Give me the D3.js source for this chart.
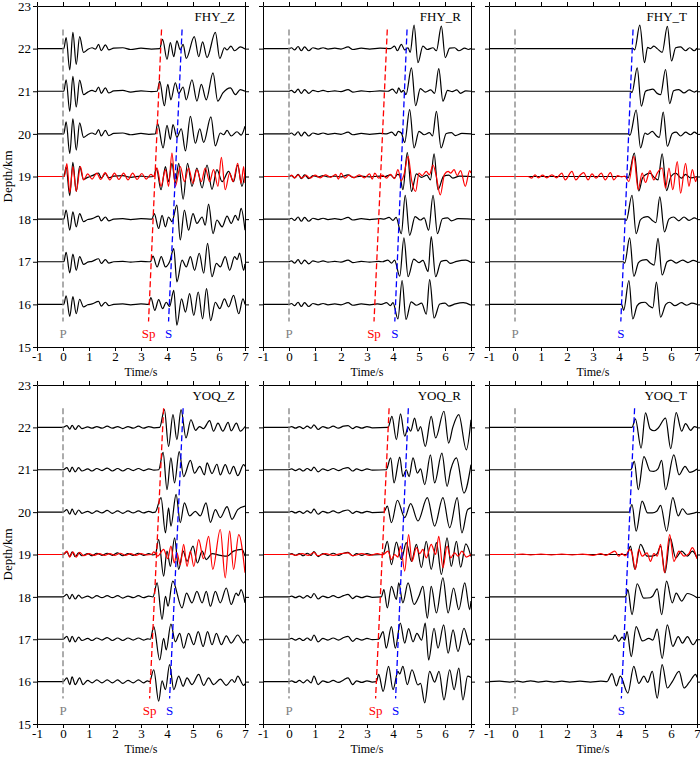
<!DOCTYPE html>
<html>
<head>
<meta charset="utf-8">
<script src="https://cdn.jsdelivr.net/npm/d3@7"></script>
<style>
  body { margin: 0; background: #fff; }
  svg text { font-family: "Liberation Serif", "Times New Roman", serif; }
</style>
</head>
<body>
<div id="root"></div>
<script>
// ---- data ----
const panelNames = ['FHY_Z', 'FHY_R', 'FHY_T', 'YOQ_Z', 'YOQ_R', 'YOQ_T'];
const depths = [22, 21, 20, 19, 18, 17, 16];
const redDepth = 19;
const timeTicks = [-1, 0, 1, 2, 3, 4, 5, 6, 7];
const depthTicks = [15, 16, 17, 18, 19, 20, 21, 22, 23];
const pickDepths = [22.45, 15.6];          // top / bottom of the pick lines
const pPicks = [[0, 0], [0, 0], [0, 0], [0, 0], [0, 0], [0, 0]];
const spPicks = [[3.79, 3.29], [3.78, 3.27], null, [3.87, 3.33], [3.85, 3.33], null];
const sPicks = [[4.58, 4.06], [4.54, 4.07], [4.54, 4.07], [4.62, 4.1], [4.59, 4.1], [4.6, 4.09]];

// traces: flat [time(s), amplitude(0.01 km)] pairs, one per depth 22..16
const fhyZ = [
  [-1,0, .03,0, .12,26, .26,-50, .38,38, .51,-37, .64,28, .79,-9, .95,-2, 1.12,2, 1.25,-1, 1.37,10, 1.47,-5, 1.63,9, 1.76,-3, 1.95,1, 2.3,2, 2.6,-2, 3.0,1, 3.4,-1, 3.72,0, 3.83,22, 4.0,-25, 4.13,14, 4.26,-19, 4.38,18, 4.51,-3, 4.62,10, 4.74,-23, 5.05,28, 5.22,-19, 5.37,16, 5.54,-21, 5.86,38, 6.03,-23, 6.21,2, 6.31,-3, 6.46,6, 6.6,-5, 6.82,4, 7,-1],
  [-1,0, .03,0, .12,27, .26,-47, .38,35, .51,-37, .64,26, .79,-8, .95,-2, 1.12,2, 1.25,-1, 1.37,10, 1.47,-5, 1.63,8, 1.76,-4, 1.95,1, 2.3,2, 2.6,-2, 3.0,1, 3.4,-1, 3.62,0, 3.72,23, 3.9,-34, 4.03,16, 4.15,-20, 4.32,20, 4.45,-5, 4.62,10, 4.74,-20, 4.96,27, 5.15,-23, 5.32,16, 5.51,-20, 5.77,43, 5.95,-23, 6.15,-4, 6.44,8, 6.63,-8, 6.82,4, 7,0],
  [-1,0, .03,0, .12,28, .26,-46, .38,35, .51,-38, .64,26, .79,-8, .95,-2, 1.12,2, 1.25,-1, 1.37,10, 1.47,-5, 1.63,8, 1.76,-4, 1.95,1, 2.3,2, 2.6,-2, 3.0,1, 3.3,-1, 3.55,0, 3.64,24, 3.85,-33, 4.0,20, 4.13,-13, 4.23,22, 4.38,-8, 4.55,12, 4.71,-40, 4.9,41, 5.09,-22, 5.26,12, 5.41,-20, 5.69,40, 5.86,-28, 6.05,2, 6.18,-2, 6.31,8, 6.47,-5, 6.69,5, 6.85,-3, 7,18],
  [-1,0, .03,0, .12,22, .26,-45, .38,33, .51,-35, .64,24, .79,-7, .95,-2, 1.12,2, 1.37,8, 1.47,-4, 1.63,7, 1.76,-3, 1.95,1, 2.3,2, 2.6,-2, 3.0,1, 3.3,-1, 3.49,0, 3.59,20, 3.77,-31, 3.94,23, 4.06,-12, 4.19,31, 4.32,-15, 4.45,31, 4.62,-53, 4.79,31, 4.96,-23, 5.15,20, 5.35,-27, 5.54,27, 5.73,-30, 5.92,16, 6.12,-12, 6.37,12, 6.56,-12, 6.72,27, 6.88,-23, 7,8],
  [-1,0, .03,0, .12,21, .26,-26, .38,17, .51,-18, .64,13, .79,-6, .95,-1, 1.12,1, 1.37,7, 1.47,-4, 1.63,5, 1.76,-4, 1.95,0, 2.3,1, 2.6,-1, 3.0,1, 3.42,0, 3.51,13, 3.68,-22, 3.81,9, 3.94,-18, 4.06,5, 4.19,-6, 4.38,33, 4.51,-49, 4.67,21, 4.83,-26, 5.0,13, 5.15,-10, 5.35,5, 5.47,-14, 5.6,35, 5.77,-34, 5.92,-2, 6.12,-18, 6.31,7, 6.47,-10, 6.63,9, 6.74,-3, 6.85,25, 7,-26],
  [-1,0, .03,0, .12,22, .26,-26, .38,18, .51,-20, .64,12, .79,-6, .95,-1, 1.12,1, 1.37,7, 1.47,-4, 1.63,5, 1.76,-3, 1.95,0, 2.3,1, 2.6,-1, 3.0,1, 3.36,0, 3.46,13, 3.62,-12, 3.78,12, 3.94,-12, 4.1,0, 4.26,31, 4.38,-47, 4.58,4, 4.74,-12, 4.9,12, 5.06,-20, 5.24,20, 5.41,-27, 5.56,43, 5.73,-35, 5.9,-4, 6.05,-12, 6.24,12, 6.41,-20, 6.6,12, 6.7,5, 6.79,20, 6.95,-20, 7,-5],
  [-1,0, .03,0, .12,20, .26,-28, .38,18, .51,-22, .64,12, .79,-6, .95,-1, 1.12,1, 1.37,7, 1.47,-4, 1.63,5, 1.76,-3, 1.95,0, 2.3,1, 2.6,-1, 3.0,1, 3.29,0, 3.38,16, 3.53,-14, 3.68,11, 3.83,-10, 3.97,5, 4.1,-5, 4.26,33, 4.38,-49, 4.56,13, 4.71,-18, 4.87,25, 5.03,-26, 5.2,29, 5.37,-34, 5.52,37, 5.68,-38, 5.86,5, 6.03,-10, 6.21,13, 6.37,-6, 6.56,21, 6.76,-22, 6.92,13, 7,0]
];
const fhyZRed = [-1,0, .05,0, .15,30, .26,-38, .38,23, .51,-35, .67,23, .79,-8, .95,6, 1.12,-6, 1.3,8, 1.45,-7, 1.62,9, 1.8,-8, 1.98,8, 2.15,-7, 2.33,8, 2.5,-8, 2.68,8, 2.85,-7, 3.03,7, 3.2,-6, 3.38,5, 3.5,0, 3.62,20, 3.77,-23, 3.94,16, 4.06,-23, 4.19,55, 4.32,-23, 4.51,23, 4.67,-12, 4.83,20, 5.0,-16, 5.15,16, 5.32,-12, 5.47,20, 5.64,-12, 5.79,16, 5.96,-23, 6.09,45, 6.24,-31, 6.41,8, 6.54,-12, 6.72,31, 6.85,-16, 6.95,23, 7,-15];

const fhyR = [
  [-1,0, 0,0, .09,2, .22,-3, .35,5, .47,-5, .6,4, .76,-5, .92,2, 1.12,-1, 1.31,2, 1.5,-1, 1.76,1, 2.0,-1, 2.27,4, 2.45,-2, 2.78,1, 3.1,-1, 3.5,1, 3.9,0, 4.06,6, 4.17,-5, 4.32,10, 4.45,-3, 4.58,2, 4.66,-9, 4.81,55, 4.96,-33, 5.15,6, 5.32,-2, 5.54,2, 5.67,-5, 5.86,53, 6.01,-21, 6.18,1, 6.37,2, 6.53,-5, 6.76,1, 6.9,-2, 7,0],
  [-1,0, 0,0, .09,2, .22,-3, .35,5, .47,-5, .6,4, .76,-5, .92,2, 1.12,-1, 1.31,2, 1.5,-1, 1.76,1, 2.0,-1, 2.27,4, 2.45,-2, 2.78,1, 3.1,-1, 3.5,1, 3.8,0, 3.98,5, 4.14,-5, 4.22,8, 4.32,-2, 4.4,2, 4.5,-8, 4.71,55, 4.87,-34, 5.05,6, 5.25,-2, 5.45,3, 5.6,-5, 5.76,53, 5.92,-23, 6.1,2, 6.28,-1, 6.45,3, 6.6,-5, 6.8,1, 7,0],
  [-1,0, 0,0, .09,2, .22,-3, .35,5, .47,-5, .6,4, .76,-5, .92,2, 1.12,-1, 1.31,2, 1.5,-1, 1.76,1, 2.0,-1, 2.27,4, 2.45,-2, 2.78,1, 3.1,-1, 3.5,1, 3.75,0, 3.95,4, 4.1,-4, 4.2,6, 4.32,2, 4.45,-20, 4.64,57, 4.81,-33, 5.0,6, 5.2,-2, 5.4,3, 5.52,-5, 5.67,53, 5.85,-33, 6.05,1, 6.25,3, 6.4,-4, 6.65,1, 7,0],
  [-1,0, 0,0, .09,2, .22,-3, .35,5, .47,-5, .6,4, .76,-5, .92,2, 1.12,-1, 1.31,2, 1.5,-1, 1.76,1, 2.0,-1, 2.27,4, 2.45,-2, 2.78,1, 3.1,-1, 3.5,1, 3.7,0, 3.9,4, 4.05,-4, 4.17,5, 4.26,2, 4.38,-31, 4.55,56, 4.71,-35, 4.9,6, 5.1,-2, 5.3,3, 5.44,-8, 5.58,53, 5.73,-31, 5.95,1, 6.15,3, 6.3,-4, 6.55,1, 7,0],
  [-1,0, 0,0, .09,2, .22,-3, .35,5, .47,-5, .6,4, .76,-5, .92,2, 1.12,-1, 1.31,2, 1.5,-1, 1.76,1, 2.0,-1, 2.27,4, 2.45,-2, 2.78,1, 3.1,-1, 3.5,1, 3.65,0, 3.85,4, 4.0,-3, 4.12,4, 4.32,-34, 4.47,56, 4.64,-38, 4.85,6, 5.05,-2, 5.2,3, 5.37,-26, 5.54,56, 5.71,-34, 5.9,1, 6.1,3, 6.25,-4, 6.5,1, 7,0],
  [-1,0, 0,0, .09,2, .22,-3, .35,5, .47,-5, .6,4, .76,-5, .92,2, 1.12,-1, 1.31,2, 1.5,-1, 1.76,1, 2.0,-1, 2.27,4, 2.45,-2, 2.78,1, 3.1,-1, 3.45,1, 3.6,0, 3.8,4, 3.95,-3, 4.06,4, 4.26,-34, 4.42,56, 4.58,-35, 4.8,6, 5.0,-2, 5.15,3, 5.35,-23, 5.47,59, 5.64,-35, 5.85,1, 6.05,3, 6.2,-4, 6.45,1, 6.8,4, 7,-2],
  [-1,0, 0,0, .09,2, .22,-3, .35,5, .47,-5, .6,4, .76,-5, .92,2, 1.12,-1, 1.31,2, 1.5,-1, 1.76,1, 2.0,-1, 2.27,4, 2.45,-2, 2.78,1, 3.1,-1, 3.4,1, 3.55,0, 3.75,4, 3.9,-3, 4.0,4, 4.19,-34, 4.35,56, 4.5,-35, 4.7,6, 4.9,-2, 5.1,3, 5.28,-23, 5.41,58, 5.58,-32, 5.8,1, 6.0,3, 6.15,-4, 6.4,1, 6.7,4, 7,-2]
];
const fhyRRed = [-1,0, 0,0, .1,3, .22,-3, .35,4, .5,-4, .65,3, .8,-4, 1.0,3, 1.2,-3, 1.4,4, 1.6,-2, 1.8,5, 1.9,-6, 2.0,8, 2.15,-4, 2.3,3, 2.5,-3, 2.7,4, 2.9,-3, 3.1,6, 3.2,-6, 3.3,8, 3.45,-4, 3.6,3, 3.75,-4, 3.9,5, 4.06,-5, 4.19,16, 4.32,-10, 4.42,4, 4.58,47, 4.72,-10, 4.87,-35, 5.0,8, 5.12,2, 5.28,12, 5.4,4, 5.54,27, 5.65,5, 5.82,-43, 5.98,5, 6.12,12, 6.22,8, 6.35,16, 6.47,2, 6.6,14, 6.78,-23, 6.95,14, 7,8];

const fhyT = [
  [-1,0, 4.55,0, 4.6,-3, 4.8,55, 4.98,-33, 5.1,3, 5.21,0, 5.34,6, 5.47,0, 5.66,-9, 5.86,52, 6.02,-29, 6.18,2, 6.37,4, 6.56,-5, 6.72,2, 6.89,-5, 7,1],
  [-1,0, 4.45,0, 4.5,-3, 4.7,55, 4.86,-35, 5.02,0, 5.15,3, 5.3,5, 5.47,-5, 5.6,-8, 5.79,51, 5.95,-29, 6.1,1, 6.3,4, 6.5,-4, 6.7,3, 6.9,-2, 7,1],
  [-1,0, 4.36,0, 4.42,-3, 4.66,56, 4.83,-33, 5.0,2, 5.1,-1, 5.28,6, 5.45,-5, 5.55,-8, 5.7,51, 5.86,-29, 6.05,1, 6.2,4, 6.37,-5, 6.56,4, 6.75,-2, 6.9,4, 7,0],
  [-1,0, 4.29,0, 4.35,-3, 4.59,55, 4.76,-34, 4.9,-4, 5.02,4, 5.19,8, 5.35,-2, 5.5,-8, 5.66,53, 5.83,-33, 6.0,0, 6.18,8, 6.4,-4, 6.56,5, 6.75,-3, 7,0],
  [-1,0, 4.22,0, 4.28,-3, 4.5,56, 4.66,-34, 4.82,-2, 4.95,4, 5.1,6, 5.28,-3, 5.42,-8, 5.57,52, 5.75,-30, 5.92,0, 6.1,5, 6.3,-4, 6.5,5, 6.7,-3, 6.9,3, 7,0],
  [-1,0, 4.16,0, 4.22,-3, 4.41,56, 4.57,-34, 4.75,-2, 4.9,4, 5.05,5, 5.2,-3, 5.35,-8, 5.5,55, 5.66,-31, 5.85,0, 6.0,4, 6.2,-3, 6.45,4, 6.65,-2, 6.85,3, 7,0],
  [-1,0, 4.1,0, 4.18,-14, 4.38,56, 4.53,-34, 4.7,-3, 4.85,4, 5.0,5, 5.15,-3, 5.3,-8, 5.44,52, 5.6,-30, 5.8,0, 5.95,5, 6.15,-3, 6.4,4, 6.6,-2, 6.8,3, 7,0]
];
const fhyTRed = [-1,0, .5,0, .64,-4, .77,4, .9,-3, 1.06,3, 1.22,-3, 1.42,4, 1.6,-3, 1.8,8, 1.93,-8, 2.19,12, 2.34,-8, 2.5,3, 2.64,9, 2.81,-8, 2.96,6, 3.12,-4, 3.32,8, 3.47,-8, 3.67,9, 3.8,-8, 3.95,2, 4.1,-1, 4.22,1, 4.38,-12, 4.57,47, 4.74,-31, 4.89,8, 5.02,-14, 5.19,14, 5.34,-8, 5.47,8, 5.66,20, 5.79,-27, 5.92,20, 6.07,-31, 6.24,35, 6.37,-39, 6.56,31, 6.69,-23, 6.82,16, 6.95,-12, 7,0];

const yoqZ = [
  [-1,0, 0,0, .15,4, .26,-4, .35,5, .47,-5, .6,4, .73,-3, .95,1, 1.12,-2, 1.3,2, 1.5,-2, 1.7,3, 1.9,-2, 2.1,2, 2.3,-3, 2.5,2, 2.7,-2, 2.9,3, 3.1,-2, 3.3,2, 3.5,-1, 3.72,0, 3.9,42, 4.06,-45, 4.23,30, 4.38,-29, 4.54,42, 4.73,-25, 4.92,18, 5.1,-7, 5.25,2, 5.4,-3, 5.64,16, 5.79,-9, 5.96,10, 6.15,-9, 6.35,12, 6.47,-8, 6.67,10, 6.82,-9, 7,2],
  [-1,0, 0,0, .15,5, .26,-5, .35,6, .47,-5, .6,5, .73,-3, .95,2, 1.12,-3, 1.3,3, 1.5,-2, 1.7,4, 1.9,-3, 2.1,3, 2.3,-3, 2.5,3, 2.7,-2, 2.9,3, 3.1,-2, 3.3,2, 3.5,-1, 3.68,0, 3.85,41, 4.0,-47, 4.15,28, 4.29,-31, 4.47,43, 4.64,-16, 4.9,22, 5.06,-8, 5.26,8, 5.44,-12, 5.54,16, 5.73,-9, 5.92,13, 6.05,-12, 6.24,12, 6.41,-10, 6.56,8, 6.72,-14, 6.95,12, 7,8],
  [-1,0, 0,0, .15,6, .26,-5, .35,7, .47,-6, .6,5, .73,-3, .95,2, 1.12,-3, 1.3,3, 1.5,-2, 1.7,4, 1.9,-3, 2.1,3, 2.3,-3, 2.5,3, 2.7,-2, 2.9,3, 3.1,-2, 3.3,2, 3.45,-1, 3.55,0, 3.77,34, 3.94,-49, 4.06,10, 4.15,-33, 4.35,42, 4.51,-25, 4.67,22, 4.87,-9, 5.09,2, 5.28,-9, 5.5,22, 5.67,-24, 5.86,6, 6.05,-13, 6.31,13, 6.5,-17, 6.72,6, 7,14],
  [-1,0, 0,0, .15,6, .26,-5, .35,6, .47,-5, .6,4, .73,-3, .95,2, 1.12,-3, 1.3,3, 1.5,-2, 1.7,3, 1.9,-2, 2.1,4, 2.3,-3, 2.5,2, 2.7,-2, 2.9,3, 3.1,-2, 3.3,2, 3.45,-1, 3.55,0, 3.68,35, 3.87,-51, 4.0,8, 4.13,-28, 4.29,39, 4.45,-35, 4.62,8, 4.77,-16, 5.0,20, 5.17,-20, 5.35,8, 5.51,-12, 5.73,2, 6.05,-2, 6.31,-4, 6.56,8, 6.88,12, 7,-4],
  [-1,0, 0,0, .15,6, .26,-5, .35,6, .47,-5, .6,4, .73,-3, .95,2, 1.12,-3, 1.3,3, 1.5,-2, 1.7,3, 1.9,-2, 2.1,3, 2.3,-3, 2.5,2, 2.7,-2, 2.9,3, 3.1,-2, 3.3,2, 3.46,0, 3.62,33, 3.81,-53, 3.94,1, 4.04,-22, 4.22,37, 4.58,-26, 4.75,9, 4.96,-14, 5.15,13, 5.35,-14, 5.51,13, 5.67,-22, 5.86,13, 6.05,-14, 6.28,21, 6.47,-18, 6.66,9, 6.75,3, 6.85,17, 7,-14],
  [-1,0, 0,0, .15,7, .26,-6, .35,7, .47,-6, .6,5, .73,-3, .95,2, 1.12,-3, 1.3,3, 1.5,-2, 1.7,4, 1.9,-3, 2.1,3, 2.3,-3, 2.5,3, 2.7,-2, 2.9,3, 3.1,-2, 3.25,1, 3.36,0, 3.49,30, 3.72,-49, 3.87,2, 3.97,-25, 4.15,36, 4.32,-6, 4.49,14, 4.64,-21, 4.83,14, 5.03,-13, 5.2,18, 5.39,-17, 5.56,18, 5.73,-13, 5.9,14, 6.09,-13, 6.28,8, 6.47,-9, 6.72,10, 6.95,-9, 7,-5],
  [-1,0, 0,0, .15,9, .26,-7, .35,11, .47,-7, .64,9, .77,-7, .95,3, 1.12,-3, 1.3,4, 1.5,-3, 1.7,4, 1.9,-3, 2.1,4, 2.3,-4, 2.5,3, 2.7,-3, 2.9,4, 3.1,-3, 3.25,2, 3.33,0, 3.49,28, 3.68,-46, 3.81,2, 3.94,-19, 4.1,40, 4.26,-19, 4.45,13, 4.62,-11, 4.77,9, 4.96,-7, 5.22,17, 5.41,-9, 5.6,9, 5.79,-7, 6.05,6, 6.28,-9, 6.5,5, 6.6,-2, 6.72,13, 6.95,-9, 7,-5]
];
const yoqZRed = [-1,0, 0,0, .15,8, .26,-6, .38,6, .51,-6, .64,5, .8,-3, 1.0,2, 1.2,-2, 1.4,2, 1.6,-2, 1.8,2, 2.0,-2, 2.2,3, 2.4,-2, 2.6,2, 2.8,-2, 3.0,2, 3.2,-1, 3.4,0, 3.49,6, 3.64,-4, 3.87,12, 4.03,-10, 4.15,20, 4.28,-20, 4.38,4, 4.51,-24, 4.64,24, 4.77,-28, 4.9,8, 5.03,-28, 5.22,35, 5.4,-10, 5.6,43, 5.76,-35, 6.05,59, 6.24,-55, 6.41,55, 6.56,-35, 6.76,47, 7,-43];

const yoqR = [
  [-1,0, 0,0, .1,2, .25,-2, .4,2, .55,-3, .7,3, .85,-2, .96,6, 1.12,-5, 1.3,2, 1.5,-2, 1.7,3, 1.9,-2, 2.1,3, 2.27,4, 2.45,-3, 2.6,2, 2.8,-2, 3.0,2, 3.2,-1, 3.81,0, 3.96,26, 4.13,-29, 4.29,32, 4.45,-21, 4.58,0, 4.68,-9, 4.83,22, 4.96,-9, 5.06,2, 5.24,-45, 5.47,26, 5.64,-25, 5.96,38, 6.14,-37, 6.3,0, 6.53,30, 6.82,-53, 7,18],
  [-1,0, 0,0, .1,2, .25,-2, .4,2, .55,-3, .7,3, .85,-2, .96,6, 1.12,-5, 1.3,2, 1.5,-2, 1.7,3, 1.9,-2, 2.1,3, 2.27,5, 2.45,-3, 2.6,2, 2.8,-2, 3.0,2, 3.2,-1, 3.74,0, 3.91,28, 4.04,-31, 4.26,30, 4.38,-16, 4.51,0, 4.62,-16, 4.77,28, 4.94,-8, 5.06,2, 5.22,-35, 5.44,35, 5.6,-31, 5.88,39, 6.08,-39, 6.22,0, 6.44,28, 6.73,-55, 7,12],
  [-1,0, 0,0, .1,2, .25,-2, .4,2, .55,-3, .7,3, .85,-2, .96,7, 1.12,-5, 1.3,2, 1.5,-2, 1.7,3, 1.9,-2, 2.1,3, 2.27,5, 2.45,-3, 2.6,2, 2.8,-2, 3.0,2, 3.2,-1, 3.65,0, 3.78,14, 3.94,-25, 4.17,28, 4.45,-13, 4.68,20, 4.96,-21, 5.32,34, 5.6,-33, 5.92,34, 6.18,-37, 6.47,34, 6.65,-49, 6.87,6, 7,10],
  [-1,0, 0,0, .1,2, .25,-2, .4,2, .55,-3, .7,3, .85,-2, .96,7, 1.12,-5, 1.3,2, 1.5,-2, 1.7,3, 1.9,-2, 2.1,3, 2.27,5, 2.45,-3, 2.6,2, 2.8,-2, 3.0,2, 3.2,-1, 3.62,0, 3.78,31, 3.94,-24, 4.13,29, 4.32,-12, 4.51,28, 4.71,-16, 4.9,24, 5.09,-31, 5.28,31, 5.47,-35, 5.67,28, 5.86,-47, 6.08,39, 6.24,-28, 6.44,31, 6.6,-30, 6.8,25, 7,-5],
  [-1,0, 0,0, .1,2, .25,-2, .4,2, .55,-3, .7,3, .85,-2, .96,8, 1.12,-5, 1.3,2, 1.5,-2, 1.7,3, 1.9,-2, 2.1,3, 2.27,6, 2.45,-4, 2.6,2, 2.8,-2, 3.0,2, 3.2,-1, 3.55,0, 3.65,17, 3.78,-26, 3.94,25, 4.13,-6, 4.22,33, 4.38,-14, 4.58,33, 4.81,-18, 5.0,2, 5.15,25, 5.32,-50, 5.47,25, 5.67,-38, 5.92,45, 6.12,-38, 6.33,21, 6.53,-30, 6.76,33, 6.95,-30, 7,-10],
  [-1,0, 0,0, .1,2, .25,-2, .4,2, .55,-3, .7,3, .85,-3, .96,10, 1.12,-6, 1.3,2, 1.5,-2, 1.7,3, 1.9,-2, 2.1,4, 2.27,7, 2.45,-5, 2.6,2, 2.8,-2, 3.0,2, 3.2,-1, 3.45,0, 3.62,18, 3.74,-21, 3.94,30, 4.09,-21, 4.28,38, 4.45,-9, 4.6,25, 4.77,-6, 4.92,14, 5.1,-2, 5.24,38, 5.37,-49, 5.58,26, 5.73,-21, 5.95,34, 6.12,-33, 6.31,22, 6.5,-29, 6.73,26, 6.95,-13, 7,-8],
  [-1,0, 0,0, .1,2, .25,-2, .4,3, .55,-3, .7,4, .85,-3, .96,13, 1.12,-7, 1.3,2, 1.5,-2, 1.7,3, 1.9,-2, 2.1,4, 2.27,9, 2.45,-7, 2.6,2, 2.8,-2, 3.0,2, 3.2,-1, 3.36,0, 3.45,17, 3.62,-23, 3.83,36, 4.0,-19, 4.19,24, 4.26,18, 4.38,36, 4.55,-7, 4.73,28, 4.96,-8, 5.06,-4, 5.22,-50, 5.41,24, 5.6,-1, 5.77,24, 5.96,-43, 6.18,28, 6.35,-19, 6.53,32, 6.69,-43, 6.87,13, 7,10]
];
const yoqRRed = [-1,0, 0,0, .1,1, .25,-2, .5,2, .75,-2, .96,5, 1.1,-3, 1.4,2, 1.7,-2, 2.0,2, 2.27,4, 2.45,-3, 2.8,2, 3.1,-2, 3.4,2, 3.6,-1, 3.81,8, 3.94,-12, 4.06,0, 4.19,-6, 4.29,20, 4.45,-39, 4.6,47, 4.73,-16, 4.9,16, 5.03,2, 5.15,12, 5.28,-8, 5.47,24, 5.64,0, 5.76,43, 5.92,-31, 6.08,20, 6.22,-8, 6.37,4, 6.5,-4, 6.65,8, 6.82,-6, 7,0];

const yoqT = [
  [-1,0, 4.5,0, 4.63,20, 4.85,-49, 5.02,34, 5.2,-4, 5.35,-8, 5.5,-2, 5.79,22, 5.99,-50, 6.2,35, 6.41,-9, 6.56,9, 6.76,-7, 6.9,2, 7,0],
  [-1,0, 4.45,0, 4.59,20, 4.74,-47, 4.96,31, 5.2,-3, 5.34,-4, 5.5,2, 5.64,22, 5.79,-47, 6.11,35, 6.31,-12, 6.54,8, 6.72,-6, 7,2],
  [-1,0, 4.38,0, 4.5,18, 4.66,-45, 4.89,26, 5.1,-2, 5.28,-2, 5.45,2, 5.6,16, 5.83,-45, 6.07,34, 6.28,-9, 6.44,8, 6.63,-5, 7,0],
  [-1,0, 4.31,0, 4.44,20, 4.61,-35, 4.83,24, 5.08,-4, 5.28,-4, 5.47,2, 5.6,20, 5.77,-43, 5.97,39, 6.18,-8, 6.41,8, 6.63,-4, 6.82,8, 7,-8],
  [-1,0, 4.25,0, 4.34,17, 4.5,-42, 4.7,31, 4.95,-3, 5.2,-2, 5.3,2, 5.47,19, 5.64,-42, 5.83,37, 6.05,-14, 6.2,9, 6.41,-10, 6.63,8, 7,-2],
  [-1,0, 3.75,0, 3.84,10, 3.99,-5, 4.12,5, 4.22,-2, 4.31,18, 4.47,-41, 4.66,30, 4.9,-4, 5.15,2, 5.3,-2, 5.47,24, 5.66,-45, 5.86,34, 6.07,-17, 6.28,6, 6.44,-9, 6.63,6, 6.85,-13, 7,0],
  [-1,0, -.6,1, -.2,-1, .1,1, .3,-1, .6,2, .9,-1, 1.2,1, 1.5,-1, 1.8,1, 2.1,-1, 2.5,1, 2.9,-1, 3.3,1, 3.54,0, 3.73,19, 3.9,-10, 4.05,13, 4.34,-27, 4.57,36, 4.76,-4, 4.96,13, 5.1,-2, 5.28,24, 5.47,-39, 5.66,40, 5.86,-15, 6.05,0, 6.31,24, 6.5,-15, 6.7,-2, 6.95,17, 7,10]
];
const yoqTRed = [-1,0, 0,0, .3,1, .6,-1, 1.0,1, 1.4,-1, 1.8,1, 2.2,-1, 2.6,1, 3.0,-2, 3.3,2, 3.5,-2, 3.7,4, 3.84,8, 3.99,-4, 4.1,2, 4.25,-3, 4.41,12, 4.5,4, 4.63,-35, 4.76,12, 4.89,-4, 5.08,4, 5.21,-16, 5.34,2, 5.47,-4, 5.6,24, 5.75,-43, 5.95,47, 6.11,-16, 6.31,8, 6.5,-4, 6.69,2, 6.82,16, 7,-10];

const blackTraces = [fhyZ, fhyR, fhyT, yoqZ, yoqR, yoqT];
const redTraces = [fhyZRed, fhyRRed, fhyTRed, yoqZRed, yoqRRed, yoqTRed];

// ---- layout ----
const width = 700;
const height = 757;
const colLeft = [37, 263, 489];
const rowTop = [6, 385];
const rowBottom = [347, 724];
const panelWidth = 208;

const svg = d3.select('#root').append('svg')
  .attr('width', width)
  .attr('height', height);

const toPairs = arr => d3.range(0, arr.length, 2).map(k => [arr[k], arr[k + 1]]);

panelNames.forEach((name, i) => {
  const col = i % 3;
  const row = Math.floor(i / 3);
  const h = rowBottom[row] - rowTop[row];

  const x = d3.scaleLinear().domain([-1, 7]).range([0, panelWidth]);
  const y = d3.scaleLinear().domain([15, 23]).range([h, 0]);

  const g = svg.append('g')
    .attr('transform', `translate(${colLeft[col]}, ${rowTop[row]})`);

  g.append('clipPath')
    .attr('id', `clip${i}`)
    .append('rect')
    .attr('width', panelWidth)
    .attr('height', h);

  const plot = g.append('g').attr('clip-path', `url(#clip${i})`);

  const traceLine = depth => d3.line()
    .x(d => x(d[0]))
    .y(d => y(depth + d[1] / 100))
    .curve(d3.curveMonotoneX);

  blackTraces[i].forEach((tr, j) => {
    plot.append('path')
      .attr('d', traceLine(depths[j])(toPairs(tr)))
      .attr('fill', 'none')
      .attr('stroke', '#000')
      .attr('stroke-width', 1.2);
  });

  plot.append('path')
    .attr('d', traceLine(redDepth)(toPairs(redTraces[i])))
    .attr('fill', 'none')
    .attr('stroke', '#ff0000')
    .attr('stroke-width', 1.2);

  // pick lines + labels
  const picks = [
    { p: pPicks[i], color: '#808080', label: 'P' },
    { p: spPicks[i], color: '#ff0000', label: 'Sp' },
    { p: sPicks[i], color: '#0000ff', label: 'S' },
  ].filter(d => d.p);

  picks.forEach(d => {
    g.append('line')
      .attr('x1', x(d.p[0]))
      .attr('y1', y(pickDepths[0]))
      .attr('x2', x(d.p[1]))
      .attr('y2', y(pickDepths[1]))
      .attr('stroke', d.color)
      .attr('stroke-width', 1.3)
      .attr('stroke-dasharray', '6,3');
    g.append('text')
      .attr('x', x(d.p[1]))
      .attr('y', h - 9.5)
      .attr('text-anchor', 'middle')
      .attr('font-size', 13)
      .attr('fill', d.color)
      .text(d.label);
  });

  // frame axes
  const fmt = d => String(d);
  const styleAxis = sel => {
    sel.selectAll('.domain').attr('stroke', '#000').attr('stroke-width', 1);
    sel.selectAll('.tick line').attr('stroke', '#000');
    sel.selectAll('text')
      .attr('fill', '#000')
      .attr('font-size', 13);
  };

  g.append('g')
    .attr('transform', `translate(0, ${h})`)
    .call(d3.axisBottom(x).tickValues(timeTicks).tickFormat(fmt).tickSize(4).tickSizeOuter(0).tickPadding(1))
    .call(styleAxis);
  g.append('g')
    .call(d3.axisTop(x).tickValues(timeTicks).tickFormat('').tickSize(4).tickSizeOuter(0))
    .call(styleAxis);
  g.append('g')
    .call(d3.axisLeft(y).tickValues(depthTicks).tickFormat(col === 0 ? fmt : '').tickSize(4).tickSizeOuter(0).tickPadding(2))
    .call(styleAxis);
  g.append('g')
    .attr('transform', `translate(${panelWidth}, 0)`)
    .call(d3.axisRight(y).tickValues(depthTicks).tickFormat('').tickSize(4).tickSizeOuter(0))
    .call(styleAxis);

  g.append('text')
    .attr('x', panelWidth - 10)
    .attr('y', 15)
    .attr('text-anchor', 'end')
    .attr('font-size', 13)
    .text(name);

  g.append('text')
    .attr('x', panelWidth / 2)
    .attr('y', h + 29)
    .attr('text-anchor', 'middle')
    .attr('font-size', 12)
    .text('Time/s');

  if (col === 0) {
    g.append('text')
      .attr('transform', `translate(-25, ${h / 2}) rotate(-90)`)
      .attr('text-anchor', 'middle')
      .attr('font-size', 13)
      .text('Depth/km');
  }
});
</script>
</body>
</html>
